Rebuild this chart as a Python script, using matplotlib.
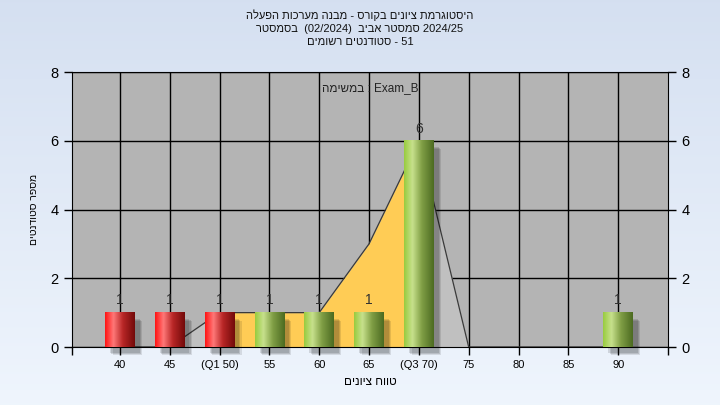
import numpy as np
import matplotlib
matplotlib.use('Agg')
import matplotlib.pyplot as plt
from matplotlib.patches import Rectangle

plt.rcParams['font.family'] = ['Liberation Sans', 'DejaVu Sans']

# data
grades = [40, 45, 50, 55, 60, 65, 70, 75, 80, 85, 90]
tick_labels = ['40', '45', '(Q1 50)', '55', '60', '65', '(Q3 70)', '75', '80', '85', '90']
counts = [1, 1, 1, 1, 1, 1, 6, 0, 0, 0, 1]
curve = [0, 0, 1, 1, 1, 3, 6, 0, 0, 0, 0]
q1, q3 = 50, 70
red_upto = 50


def rev(s):
    # hebrew -> visual order
    return s[::-1]


title = '\n'.join([
    rev('היסטוגרמת ציונים בקורס - מבנה מערכות הפעלה'),
    rev('בסמסטר') + '  (02/2024)  ' + rev('סמסטר אביב') + ' 2024/25',
    rev('סטודנטים רשומים') + ' - 51',
])
ylabel = rev('מספר סטודנטים')
xlabel = rev('טווח ציונים')
task_note = rev('במשימה') + ' : Exam_B'

fig = plt.figure(figsize=(7.2, 4.05), dpi=100)

# gradient background
bg = fig.add_axes([0, 0, 1, 1], zorder=-5)
g = np.linspace(0, 1, 256).reshape(-1, 1)
top = np.array([0.835, 0.878, 0.945])
bot = np.array([0.937, 0.961, 0.992])
img = top + (bot - top) * g[:, :, None]
bg.imshow(img, aspect='auto', extent=[0, 1, 0, 1])
bg.axis('off')

ax = fig.add_axes([0.1, 0.1432, 0.8278, 0.679])
ax.set_facecolor('#b4b4b4')

# area curve, orange between Q1 and Q3
xs = np.array(grades, dtype=float)
ys = np.array(curve, dtype=float)
ax.fill_between(xs, ys, color='#c0c0c0', zorder=1, lw=0)
mask = (xs >= q1) & (xs <= q3)
ax.fill_between(xs[mask], ys[mask], color='#ffcc55', zorder=1.5, lw=0)
ax.plot(xs, ys, color='#3a3a3a', lw=0.9, zorder=1.6)

ax.grid(True, color='black', lw=1)
ax.set_axisbelow(True)

w = 2.95
red_grad = np.array([[1.0, 0.08, 0.08], [1.0, 0.47, 0.47], [0.72, 0.15, 0.15], [0.45, 0.04, 0.04]])
green_grad = np.array([[0.60, 0.80, 0.25], [0.78, 0.88, 0.55], [0.50, 0.62, 0.27], [0.30, 0.42, 0.13]])


def grad_img(stops):
    pos = np.array([0, 0.28, 0.6, 1.0])
    t = np.linspace(0, 1, 64)
    rows = np.stack([np.interp(t, pos, stops[:, k]) for k in range(3)], axis=1)
    return rows[None, :, :]


for x, c in zip(grades, counts):
    if c <= 0:
        continue
    # soft shadow
    for k, a in enumerate([0.12, 0.12, 0.10]):
        d = 0.15 + 0.12 * k
        ax.add_patch(Rectangle((x - w / 2 + 0.35 + d, -0.13 - d * 0.3), w, c,
                               facecolor='black', alpha=a, lw=0, zorder=2.5, clip_on=False))
    stops = red_grad if x <= red_upto else green_grad
    ax.imshow(grad_img(stops), extent=[x - w / 2, x + w / 2, 0, c], aspect='auto',
              zorder=3, interpolation='bilinear')
    ax.text(x, c + 0.15, str(c), ha='center', va='bottom', fontsize=10, color='#303030', zorder=4)

ax.set_xlim(35.2, 95)
ax.set_ylim(0, 8)
ax.set_xticks(grades)
ax.set_xticklabels(tick_labels, fontsize=8)
ax.set_xticks([35.2, 95], minor=True)
ax.set_yticks([0, 2, 4, 6, 8])
ax.tick_params(axis='y', labelsize=10.5, length=6, width=1, right=True, labelright=True, colors='black')
ax.tick_params(axis='x', which='both', length=6, width=1, colors='black')
for s in ax.spines.values():
    s.set_color('black')

ax.set_xlabel(xlabel, fontsize=8.5, labelpad=4)
ax.set_ylabel(ylabel, fontsize=7.5, labelpad=8)
ax.text(0.5, 0.965, task_note, transform=ax.transAxes, ha='center', va='top', fontsize=8.5, color='#222222')
fig.text(0.5, 0.978, title, ha='center', va='top', fontsize=8, linespacing=1.4, color='#111111')

fig.savefig('out.png', dpi=100)
